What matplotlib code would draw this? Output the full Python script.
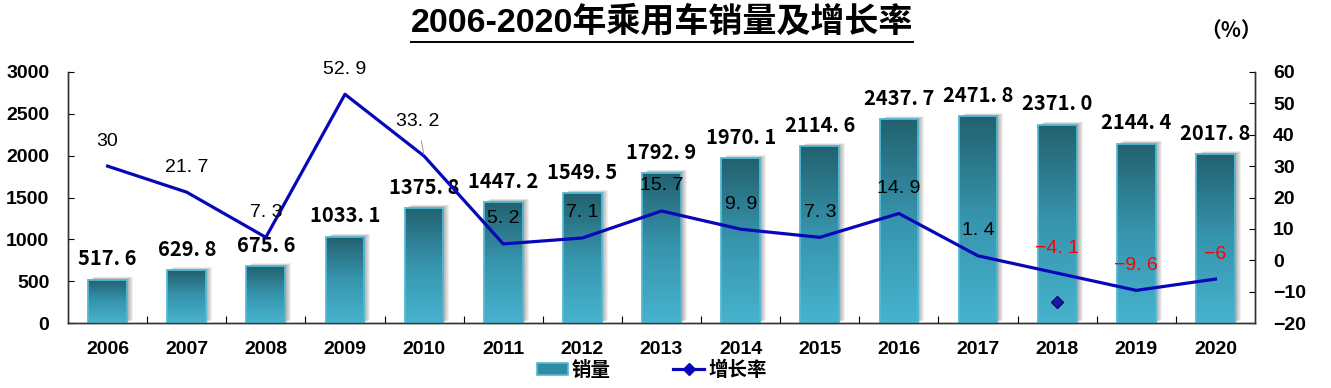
import numpy as np
import matplotlib
matplotlib.use("Agg")
import matplotlib.pyplot as plt
import matplotlib.transforms as mtransforms
from matplotlib.colors import LinearSegmentedColormap
from matplotlib.patches import Rectangle, Patch
from matplotlib.lines import Line2D

# data
years = [str(y) for y in range(2006, 2021)]
sales = [517.6, 629.8, 675.6, 1033.1, 1375.8, 1447.2, 1549.5, 1792.9,
         1970.1, 2114.6, 2437.7, 2471.8, 2371.0, 2144.4, 2017.8]
growth = [30, 21.7, 7.3, 52.9, 33.2, 5.2, 7.1, 15.7, 9.9, 7.3,
          14.9, 1.4, -4.1, -9.6, -6]
stray_idx, stray_val = 12, -13.3  # lone diamond left on the 2018 bar

sales_ticks = [0, 500, 1000, 1500, 2000, 2500, 3000]
growth_ticks = [-20, -10, 0, 10, 20, 30, 40, 50, 60]

title = "2006-2020年乘用车销量及增长率"

CJK = "Noto Sans CJK SC"
LAT = "Liberation Sans"
BAR_TOP = "#22616f"
BAR_BOT = "#47b3ce"
BAR_EDGE = "#52bad3"
LINE_C = "#0707b8"

W, H = 1331, 388
fig = plt.figure(figsize=(W / 100, H / 100), dpi=100)
ax = fig.add_axes([68 / W, 1 - 323 / H, (1255 - 68) / W, (323 - 72) / H])
ax2 = ax.twinx()

x = np.arange(len(years))
bw = 0.49
cmap = LinearSegmentedColormap.from_list("bar", [BAR_BOT, "#3795ae", BAR_TOP])
grad = np.linspace(0, 1, 256).reshape(-1, 1)


def px(dx, dy):
    return mtransforms.ScaledTranslation(dx / 100, dy / 100, fig.dpi_scale_trans)


for xi, v in zip(x, sales):
    # soft shadow, offset to the right and up
    for k in range(1, 7):
        sh = Rectangle((xi - bw / 2, 0), bw, v, facecolor="black", alpha=0.06,
                       edgecolor="none", zorder=1,
                       transform=ax.transData + px(k, k * 0.5))
        ax.add_patch(sh)
    rect = Rectangle((xi - bw / 2, 0), bw, v, facecolor="none",
                     edgecolor=BAR_EDGE, lw=1.3, zorder=3)
    ax.add_patch(rect)
    im = ax.imshow(grad, extent=(xi - bw / 2, xi + bw / 2, 0, v), origin="lower",
                   cmap=cmap, aspect="auto", zorder=2, interpolation="bilinear")
    im.set_clip_path(rect)
    lab = f"{v:.1f}".replace(".", ". ")
    ax.annotate(lab, (xi, v), xytext=(0, 15), textcoords="offset points",
                ha="center", va="center", fontsize=14.5, fontweight="bold",
                family=[CJK], color="black", zorder=5)

ax.set_xlim(-0.5, len(years) - 0.5)
ax.set_ylim(0, 3000)
ax.set_yticks(sales_ticks)
ax.set_xticks(x)
ax.set_xticklabels(years)
ax.set_xticks(np.arange(0.5, len(years) - 1, 1), minor=True)
ax.tick_params(axis="x", which="major", length=0, pad=13)
ax.tick_params(axis="x", which="minor", direction="in", length=5, width=0.8)
ax.tick_params(axis="y", direction="in", length=4, width=0.8, pad=13.5)

ax2.plot(x, growth, color=LINE_C, lw=2.3, zorder=4)
ax2.plot([stray_idx], [stray_val], marker="D", ms=6, color="#1a1aa8",
         markeredgecolor="#0a0a70", lw=0)
ax2.set_ylim(-20, 60)
ax2.set_yticks(growth_ticks)
ax2.tick_params(axis="y", direction="in", length=4, width=0.8, pad=13)

for xi, g in zip(x, growth):
    lab = f"{g:g}".replace(".", ". ").replace("-", "−")
    col = "red" if g < 0 else "black"
    if g == 33.2:
        ax2.annotate(lab, (xi, g), xytext=(-4.5, 25), textcoords="offset points",
                     ha="center", va="center", fontsize=14, family=[LAT, CJK],
                     color=col, zorder=6,
                     arrowprops=dict(arrowstyle="-", color="#888888", lw=0.6,
                                     shrinkA=6, shrinkB=1))
    else:
        ax2.annotate(lab, (xi, g), xytext=(0, 18), textcoords="offset points",
                     ha="center", va="center", fontsize=14, family=[LAT, CJK],
                     color=col, zorder=6)

for a in (ax, ax2):
    a.spines["top"].set_visible(False)
    for s in ("left", "right", "bottom"):
        a.spines[s].set_color("#333333")
        a.spines[s].set_linewidth(1.0)
    for t in a.get_xticklabels() + a.get_yticklabels():
        t.set_fontfamily([LAT, CJK])
        t.set_fontweight("bold")
        t.set_fontsize(14)

# title with underline
ttl = fig.text(662 / W, 1 - 22 / H, title, ha="center", va="center",
               fontsize=24.5, fontweight="bold", family=[LAT, CJK])
fig.text(1231 / W, 1 - 30 / H, "（%）", ha="center", va="center",
         fontsize=15, fontweight="bold", family=[CJK])

fig.canvas.draw()
bb = ttl.get_window_extent()
uy = 1 - 42 / H
fig.add_artist(Line2D([bb.x0 / W, bb.x1 / W], [uy, uy], color="black", lw=1.4,
                      transform=fig.transFigure))

handles = [Patch(facecolor="#2f8aa3", edgecolor=BAR_EDGE, lw=1.2),
           Line2D([], [], color=LINE_C, lw=2.3, marker="D", ms=6)]
fig.legend(handles, ["销量", "增长率"], loc="center",
           bbox_to_anchor=(652 / W, 1 - 370 / H), ncol=2, frameon=False,
           handlelength=1.6, handleheight=0.6, handletextpad=0.2,
           columnspacing=3.2, prop=dict(family=CJK, weight="bold", size=14))

fig.savefig("out.png", dpi=100)
